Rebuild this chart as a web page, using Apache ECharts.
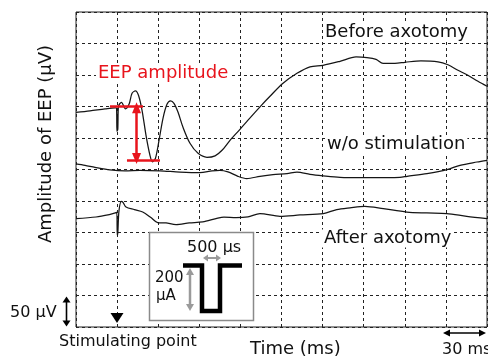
<!DOCTYPE html>
<html><head><meta charset="utf-8">
<script src="https://cdn.jsdelivr.net/npm/echarts@6/dist/echarts.min.js"></script>
<style>html,body{margin:0;padding:0;background:#fff}#c{width:488px;height:358px}</style>
</head><body><div id="c"></div>
<script>
// Axes (time in ms, amplitude in µV; one grid cell = 30 ms x 50 µV)
const timeMin = 0, timeMax = 300, timeStep = 30;
const ampMin = 0, ampMax = 500, ampStep = 50;

// Traces: [time (ms), amplitude (µV, offset for display)]
const beforeAxotomy = [
  [0,340.8],[10.2,343.2],[21.2,346.3],[28.5,347.9],[29.6,347.1],[29.9,310.6],[30.5,313.8],[31.0,350.3],
  [33.2,356.7],[36.1,346.3],[38.7,353.5],[40.9,370.9],[43.4,374.9],[45.6,367.8],[48.2,344],[51.1,304.3],
  [54.0,272.5],[55.8,262.2],[58.0,267.8],[60.6,296.3],[63.5,331.3],[66.4,353.5],[69.0,359],[71.5,355.1],
  [74.5,340.8],[78.1,317],[83.2,291.6],[89.1,275.7],[95.6,269.4],[101.5,271.7],[106.6,280.5],[112.4,296.3],
  [119.7,313.8],[124.8,326.5],[134.3,349.5],[141.6,366.2],[151.1,386.8],[161.3,402.7],[170.8,413],
  [180.3,415.4],[192.7,421.7],[204.4,428.6],[212.4,427.6],[219,424.9],[224.1,418.6],[232.8,418.6],
  [240.1,420.2],[251.8,422.5],[264.2,421],[271.5,416.2],[278.8,407.5],[285.4,400.3],[293.4,390],[300,382.1]
];
const withoutStimulation = [
  [0,259],[6.6,256.7],[13.9,253.5],[24.8,249.5],[35.8,247.9],[46.7,248.7],[61.3,247.9],[75.9,246],
  [90.5,245.1],[99.3,247.9],[105.1,248.7],[110.9,246.3],[118.2,239.2],[124.6,235.6],[134.3,239.2],
  [143.8,241.9],[154,243.5],[161.3,246],[170.8,242.4],[180.3,240],[192.7,237.6],[209.5,237.1],
  [227,237.1],[236.5,237.6],[241.6,239.2],[256.2,243.5],[270.8,249.8],[280.3,256.7],[292.7,261.9],[300,264.6]
];
const afterAxotomy = [
  [0,172.1],[14.6,174.6],[24.3,178.4],[28.7,181],[29.8,182.1],[30.1,145.6],[30.5,148.7],[31.4,185.2],
  [33.2,199.5],[34.3,197.9],[36.5,190.5],[42.6,186.3],[48.7,182.5],[54.7,173.7],[59.6,165.7],[65.7,165.1],
  [73,162.5],[82.7,165.1],[92.5,166.7],[102.2,172.1],[108,174.6],[116.8,173.7],[125.5,174.9],[134.3,180],
  [148.9,175.7],[163.5,177.8],[180.5,180],[190.3,186.3],[200,189.2],[210.9,191.6],[224.3,187.9],
  [241.4,182.5],[256,181],[270.6,180],[285.2,175.7],[300,172.1]
];
// EEP amplitude marker (peak level, trough level, arrow)
const eepPeakLine = [[24.8,351],[48.9,351]];
const eepTroughLine = [[37.2,264.6],[61.3,264.6]];
const eepArrow = [[44.2,348],[44.2,267.5]];

const FONT = '"DejaVu Sans", Verdana, sans-serif';
const RED = '#e8141c';

function txt(text, x, y, size, color, align, bg) {
  const style = {text:text, font: size + 'px ' + FONT, fill: color || '#111', align: align || 'left', verticalAlign:'middle'};
  if (bg) { style.backgroundColor = '#fff'; style.padding = [0, 2]; x -= 2; }
  return {type:'text', x:x, y:y, z:100, silent:true, style:style};
}
function dblArrowH(x1, x2, y, color, lw, hl, hw) {
  return [
    {type:'line', z:100, silent:true, shape:{x1:x1+hl*0.6, y1:y, x2:x2-hl*0.6, y2:y}, style:{stroke:color, lineWidth:lw}},
    {type:'polygon', z:100, silent:true, shape:{points:[[x1,y],[x1+hl,y-hw],[x1+hl,y+hw]]}, style:{fill:color}},
    {type:'polygon', z:100, silent:true, shape:{points:[[x2,y],[x2-hl,y-hw],[x2-hl,y+hw]]}, style:{fill:color}}
  ];
}
function dblArrowV(x, y1, y2, color, lw, hl, hw) {
  return [
    {type:'line', z:100, silent:true, shape:{x1:x, y1:y1+hl*0.6, x2:x, y2:y2-hl*0.6}, style:{stroke:color, lineWidth:lw}},
    {type:'polygon', z:100, silent:true, shape:{points:[[x,y1],[x-hw,y1+hl],[x+hw,y1+hl]]}, style:{fill:color}},
    {type:'polygon', z:100, silent:true, shape:{points:[[x,y2],[x-hw,y2-hl],[x+hw,y2-hl]]}, style:{fill:color}}
  ];
}

const chart = echarts.init(document.getElementById('c'), null, {renderer:'canvas'});

const lineStyle = {color:'#151515', width:1.25};
function trace(name, data, extra) {
  return Object.assign({type:'line', name:name, data:data, showSymbol:false, symbol:'none', smooth:0.3,
    lineStyle:lineStyle, itemStyle:{color:'#151515'}, silent:true, z:3}, extra || {});
}

const graphics = [
  {type:'text', x:46, y:144, rotation:Math.PI/2, z:100, silent:true,
   style:{text:'Amplitude of EEP (\u00b5V)', font:'18px ' + FONT, fill:'#111', align:'center', verticalAlign:'middle'}},
  txt('EEP amplitude', 98, 73.5, 18, RED, 'left', true),
  txt('Before axotomy', 325, 32.5, 18, null, 'left', true),
  txt('w/o stimulation', 327, 144, 18, null, 'left', true),
  txt('After axotomy', 324, 238.5, 18, null, 'left', true),
  // inset
  {type:'rect', z:100, silent:true, shape:{x:149.5, y:232.5, width:104, height:88}, style:{fill:'#fff', stroke:'#8a8a8a', lineWidth:1.5}},
  {type:'polyline', z:101, silent:true, shape:{points:[[183,265.5],[202,265.5],[202,311],[220,311],[220,265.5],[242,265.5]]},
   style:{stroke:'#000', lineWidth:4.5, fill:null, lineJoin:'miter'}},
  txt('500 \u00b5s', 187, 248, 16),
  txt('200', 155, 278.5, 15),
  txt('\u00b5A', 156, 296, 15),
  ...dblArrowH(203, 221, 258, '#9a9a9a', 2, 5, 3.5),
  ...dblArrowV(190, 268, 311, '#9a9a9a', 2.5, 7, 4),
  // scale bars
  ...dblArrowV(66.5, 296.5, 326.5, '#000', 1.6, 6, 4),
  txt('50 \u00b5V', 10, 313, 16),
  ...dblArrowH(443, 486, 333, '#000', 1.6, 7, 3.5),
  txt('30 ms', 442, 349.5, 16),
  // stimulating point
  {type:'polygon', z:100, silent:true, shape:{points:[[110.5,313],[123.5,313],[117,323]]}, style:{fill:'#000'}},
  txt('Stimulating point', 59, 342, 16),
  txt('Time (ms)', 250, 349.5, 18)
];

chart.setOption({
  animation:false,
  backgroundColor:'#fff',
  grid:{left:76, right:1, top:12, bottom:31, show:true, borderColor:'#222', borderWidth:1, backgroundColor:'transparent'},
  xAxis:{type:'value', min:timeMin, max:timeMax, interval:timeStep,
    axisLine:{show:false}, axisTick:{show:false}, axisLabel:{show:false},
    splitLine:{show:true, lineStyle:{type:[3,3], color:'#222', width:1}}},
  yAxis:{type:'value', min:ampMin, max:ampMax, interval:ampStep,
    axisLine:{show:false}, axisTick:{show:false}, axisLabel:{show:false},
    splitLine:{show:true, lineStyle:{type:[3,3], color:'#222', width:1}}},
  series:[
    trace('Before axotomy', beforeAxotomy, {
      markLine:{silent:true, animation:false, symbol:'none', label:{show:false},
        lineStyle:{color:RED, width:2.5, type:'solid'}, emphasis:{disabled:true},
        data:[
          [{coord:eepPeakLine[0]},{coord:eepPeakLine[1]}],
          [{coord:eepTroughLine[0]},{coord:eepTroughLine[1]}],
          [{coord:eepArrow[0], symbol:'triangle', symbolSize:[9,11], symbolRotate:0},
           {coord:eepArrow[1], symbol:'triangle', symbolSize:[9,11]}]
        ]}
    }),
    trace('w/o stimulation', withoutStimulation),
    trace('After axotomy', afterAxotomy)
  ],
  graphic:graphics
});
</script></body></html>
